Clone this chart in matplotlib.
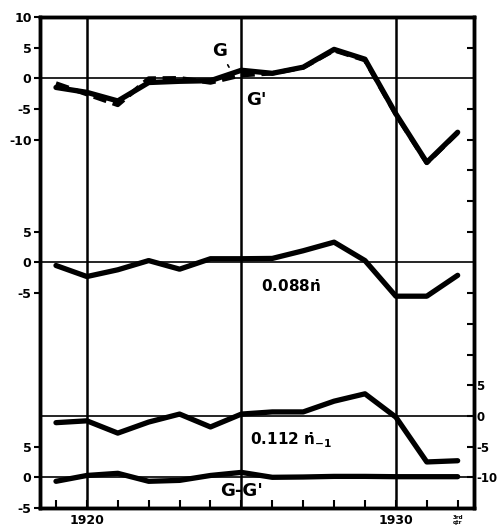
import matplotlib.pyplot as plt
import numpy as np

years = list(range(1919, 1933))

G = [-1.5, -2.3, -3.7, -0.7, -0.5, -0.4, 1.3, 0.8, 1.8, 4.7, 3.1, -5.8, -13.7, -8.8]
G_minus_Gp = [-0.65, 0.3, 0.65, -0.65, -0.5, 0.3, 0.8, 0.0, 0.05, 0.15, 0.15, 0.1, 0.1, 0.1]
n_dot = [-0.5, -2.3, -1.2, 0.3, -1.1, 0.6, 0.6, 0.65, 1.9, 3.3, 0.3, -5.5, -5.5, -2.1]
n_dot_lag = [-1.1, -0.8, -2.8, -1.0, 0.3, -1.8, 0.3, 0.65, 0.65, 2.4, 3.6, -0.2, -7.5, -7.3]
Gp = [g - d for g, d in zip(G, G_minus_Gp)]

# vertical offsets of the stacked panels (one shared scale)
off_top, off_mid, off_low, off_bot = 65, 35, 10, 0

left_ticks = [75, 70, 65, 60, 55, 40, 35, 30, 5, 0, -5]
left_labels = ["10", "5", "0", "-5", "-10", "5", "0", "-5", "5", "0", "-5"]
right_ticks = [15, 10, 5, 0]
right_labels = ["5", "0", "-5", "-10"]

plt.rcParams['font.family'] = 'DejaVu Sans'
plt.rcParams['font.weight'] = 'bold'

fig = plt.figure(figsize=(4.99, 5.31), dpi=100)
ax = fig.add_axes([0.080, 0.0433, 0.870, 0.925])
ax.set_xlim(1918.48, 1932.53)
ax.set_ylim(-5, 75)

for yy in [off_top, off_mid, off_low, off_bot]:
    ax.axhline(yy, color='black', lw=1.2)
for xx in [1920, 1925, 1930]:
    ax.axvline(xx, color='black', lw=1.8)

lw = 3.8
ax.plot(years, np.array(G) + off_top, color='black', lw=lw, solid_capstyle='round')
ax.plot(years, np.array(Gp) + off_top, color='black', lw=3.2, dashes=(3, 1.5))
ax.plot(years, np.array(n_dot) + off_mid, color='black', lw=lw, solid_capstyle='round')
ax.plot(years, np.array(n_dot_lag) + off_low, color='black', lw=lw, solid_capstyle='round')
ax.plot(years, np.array(G_minus_Gp) + off_bot, color='black', lw=lw, solid_capstyle='round')

ax.annotate("G", xy=(1924.6, 66.8), xytext=(1924.3, 69.5), fontsize=13, fontweight='bold',
            ha='center', va='center', arrowprops=dict(arrowstyle='-', lw=1.2, color='black'))
ax.text(1925.5, 61.4, "G'", fontsize=13, fontweight='bold', ha='center', va='center')
ax.text(1926.6, 31.0, "0.088$\\dot{\\mathbf{n}}$", fontsize=11, fontweight='bold', ha='center', va='center')
ax.text(1926.6, 6.0, "0.112 $\\dot{\\mathbf{n}}_{\\mathbf{-1}}$", fontsize=11, fontweight='bold', ha='center', va='center')
ax.text(1925.0, -2.3, "G-G'", fontsize=13, fontweight='bold', ha='center', va='center')

ax.set_yticks(left_ticks)
ax.set_yticklabels(left_labels, fontsize=9, fontweight='bold')
ax.tick_params(axis='y', direction='out', length=4, width=1.5, pad=2)

ax.set_xticks(years)
ax.set_xticklabels(["" for y in years])
ax.tick_params(axis='x', direction='in', length=6, width=1.5)
ax.text(1920, -7.0, "1920", fontsize=9, fontweight='bold', ha='center', va='center')
ax.text(1930, -7.0, "1930", fontsize=9, fontweight='bold', ha='center', va='center')
ax.text(1932, -7.0, "3rd\nqtr", fontsize=4, fontweight='bold', ha='center', va='center', linespacing=0.9)

ax2 = ax.twinx()
ax2.set_ylim(-5, 75)
ax2.set_yticks(right_ticks)
ax2.set_yticklabels(right_labels, fontsize=8.5, fontweight='bold')
ax2.tick_params(axis='y', direction='in', length=5, width=1.5, pad=1.5)
ax2.set_yticks([70, 60, 55, 50, 45, 40, 30, 25, 20], minor=True)
ax2.tick_params(axis='y', which='minor', direction='in', length=5, width=1.5)

for a in (ax, ax2):
    for s in a.spines.values():
        s.set_linewidth(2.5)

fig.savefig("out.png", dpi=100)
